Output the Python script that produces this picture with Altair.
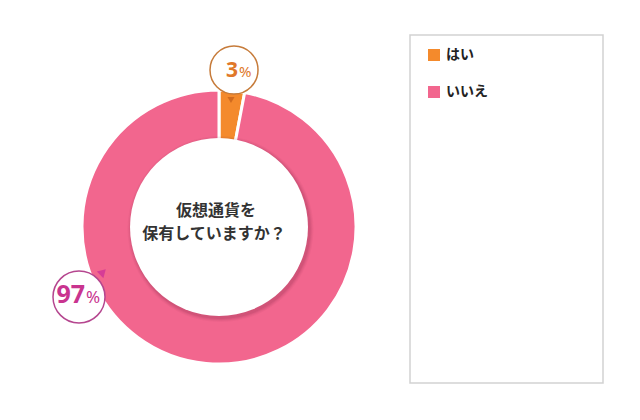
import math
import altair as alt
import pandas as pd

# ---- data ----
categories = ["はい", "いいえ"]
values = [3, 97]
colors = ["#F48A2C", "#F2668E"]
question_lines = ["仮想通貨を", "保有していますか？"]

df = pd.DataFrame({"category": categories, "value": values, "idx": list(range(len(categories)))})
one = pd.DataFrame({"k": [0]})

# geometry (plot-area pixels; page origin offset 8px)
CX, CY = 211, 219
R_OUT, R_IN = 137, 89
FONT_JP = "Noto Sans CJK JP"
FONT_NUM = "Noto Sans"

ring = alt.Chart(df).mark_arc(radius=R_OUT, radius2=0, stroke="white", strokeWidth=3).encode(
    theta=alt.Theta("value:Q", stack=True),
    order=alt.Order("idx:O"),
    color=alt.Color(
        "category:N",
        scale=alt.Scale(domain=categories, range=colors),
        legend=alt.Legend(
            orient="none", legendX=419, legendY=40, title=None,
            symbolType="square", symbolSize=144, symbolStrokeWidth=0, symbolOpacity=1,
            labelFont=FONT_JP, labelFontSize=14, labelFontWeight="bold", labelColor="#222",
            rowPadding=23, labelOffset=5,
        ),
    ),
    x=alt.value(CX), y=alt.value(CY),
)

shadows = []
for dr, op in [(4, 0.04), (3, 0.05), (2, 0.07), (1, 0.09)]:
    shadows.append(
        alt.Chart(one).mark_arc(radius=R_IN + dr, theta=0, theta2=2 * math.pi,
                                color="#6a1a35", opacity=op)
        .encode(x=alt.value(CX + 1.5), y=alt.value(CY + 2))
    )

hole = alt.Chart(one).mark_arc(radius=R_IN, theta=0, theta2=2 * math.pi, color="white").encode(
    x=alt.value(CX), y=alt.value(CY)
)

q1 = alt.Chart(one).mark_text(text=question_lines[0], font=FONT_JP, fontSize=16, fontWeight="bold",
                              color="#333", baseline="middle", align="center").encode(
    x=alt.value(208), y=alt.value(203))
q2 = alt.Chart(one).mark_text(text=question_lines[1], font=FONT_JP, fontSize=16, fontWeight="bold",
                              color="#333", baseline="middle", align="center").encode(
    x=alt.value(206), y=alt.value(226))

# legend box
box = alt.Chart(one).mark_rect(fill="white", stroke="#d2d2d2", strokeWidth=1.5).encode(
    x=alt.value(402), x2=alt.value(595), y=alt.value(27), y2=alt.value(375))

# callouts
lab = df.assign(num=df["value"].astype(str))
small = lab[lab["category"] == categories[0]]
big = lab[lab["category"] == categories[1]]

b1 = alt.Chart(one).mark_circle(color="white", opacity=1, stroke="#C67B3A", strokeWidth=1.5, size=48 * 48).encode(
    x=alt.value(226), y=alt.value(62))
t1 = alt.Chart(one).mark_point(shape="triangle-down", filled=True, color="#D06A1E", opacity=1, size=50).encode(
    x=alt.value(223), y=alt.value(92))
n1 = alt.Chart(small).mark_text(font=FONT_NUM, fontSize=21, fontWeight="bold", color="#E0782A",
                                align="right", baseline="alphabetic").encode(
    text="num:N", x=alt.value(230), y=alt.value(69))
p1 = alt.Chart(one).mark_text(text="%", font=FONT_NUM, fontSize=15, color="#E0782A",
                              align="left", baseline="alphabetic").encode(
    x=alt.value(231), y=alt.value(69))

b2 = alt.Chart(one).mark_circle(color="white", opacity=1, stroke="#B5468F", strokeWidth=1.5, size=52 * 52).encode(
    x=alt.value(71), y=alt.value(289))
t2 = alt.Chart(one).mark_point(shape="triangle", angle=45, filled=True, color="#D63C96", opacity=1, size=85).encode(
    x=alt.value(94), y=alt.value(265))
n2 = alt.Chart(big).mark_text(font=FONT_NUM, fontSize=25, fontWeight="bold", color="#C9348F",
                              align="right", baseline="alphabetic").encode(
    text="num:N", x=alt.value(77), y=alt.value(295))
p2 = alt.Chart(one).mark_text(text="%", font=FONT_NUM, fontSize=17, color="#C9348F",
                              align="left", baseline="alphabetic").encode(
    x=alt.value(78), y=alt.value(295))

chart = alt.layer(box, ring, *shadows, hole, q1, q2, t1, b1, n1, p1, t2, b2, n2, p2).properties(
    width=616, height=396, padding=0, autosize="none"
).configure_view(strokeWidth=0)

chart.save("out.html", embed_options={"renderer": "svg", "actions": False})
